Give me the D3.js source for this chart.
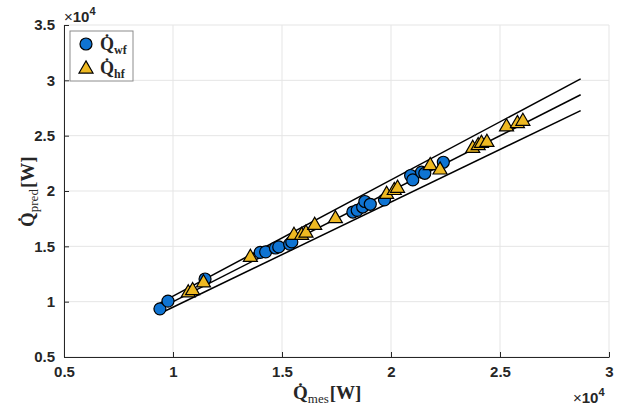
<!DOCTYPE html>
<html>
<head>
<meta charset="utf-8">
<script src="https://cdn.jsdelivr.net/npm/d3@7"></script>
<style>
  html, body { margin: 0; padding: 0; background: #fff; }
  svg { display: block; }
  .tick text { font-family: "Liberation Sans", Arial, sans-serif; font-weight: bold; font-size: 15px; fill: #262626; }
  .lbl { font-family: "Liberation Serif", "DejaVu Serif", serif; fill: #262626; }
</style>
</head>
<body>
<svg id="svg" width="617" height="408"></svg>
<script>
// measured vs predicted heat flow [W]
const wfMes  = [9400, 9770, 11470, 14000, 14250, 14700, 14850, 15350, 15450, 18250, 18450, 18700, 18800, 19050, 19700, 20900, 21000, 21400, 21550, 22400];
const wfPred = [9350, 10050, 12050, 14450, 14500, 14850, 14950, 15200, 15400, 18100, 18250, 18550, 19050, 18800, 19200, 21400, 21000, 21700, 21600, 22600];
const hfMes  = [10700, 10900, 11400, 13550, 15550, 15900, 16100, 16500, 17450, 19800, 20150, 20300, 21800, 22250, 23750, 24000, 24150, 24400, 25300, 25800, 26050];
const hfPred = [10800, 11000, 11700, 14000, 16000, 16000, 16200, 16900, 17500, 19700, 20050, 20250, 22300, 21900, 23850, 24100, 24300, 24400, 25800, 26100, 26300];
// reference lines y = k * x
const bandFactors = [1.05, 1.0, 0.95];
const bandRange = [9400, 28700];
const xTicks = [5000, 10000, 15000, 20000, 25000, 30000];
const yTicks = [5000, 10000, 15000, 20000, 25000, 30000, 35000];

const W = 617, H = 408;
const m = { left: 64, right: 8, top: 25, bottom: 51 };
const svg = d3.select('#svg');

const x = d3.scaleLinear().domain([5000, 30000]).range([m.left, W - m.right]);
const y = d3.scaleLinear().domain([5000, 35000]).range([H - m.bottom, m.top]);

const fmt = v => d3.format('')(v / 10000);

// grid
const grid = svg.append('g');
grid.selectAll('.gx').data(xTicks).join('line')
  .attr('x1', d => x(d)).attr('x2', d => x(d))
  .attr('y1', y.range()[0]).attr('y2', y.range()[1])
  .attr('stroke', '#e5e5e5').attr('stroke-width', 1);
grid.selectAll('.gy').data(yTicks).join('line')
  .attr('y1', d => y(d)).attr('y2', d => y(d))
  .attr('x1', x.range()[0]).attr('x2', x.range()[1])
  .attr('stroke', '#e5e5e5').attr('stroke-width', 1);

// axes
const xAxis = svg.append('g').attr('transform', `translate(0,${y.range()[0]})`)
  .call(d3.axisBottom(x).tickValues(xTicks).tickFormat(fmt).tickSizeInner(-5).tickSizeOuter(0).tickPadding(9));
const yAxis = svg.append('g').attr('transform', `translate(${x.range()[0]},0)`)
  .call(d3.axisLeft(y).tickValues(yTicks).tickFormat(fmt).tickSizeInner(-5).tickSizeOuter(0).tickPadding(9));
[xAxis, yAxis].forEach(a => {
  a.select('.domain').attr('stroke', '#262626');
  a.selectAll('.tick line').attr('stroke', '#262626');
});

// exponent labels
function expLabel(px, py) {
  const t = svg.append('text').attr('x', px).attr('y', py)
    .style('font-family', '"Liberation Sans", Arial, sans-serif').style('font-size', '15px').attr('fill', '#262626');
  t.append('tspan').text('\u00d7');
  t.append('tspan').text('10').style('font-weight', 'bold');
  t.append('tspan').text('4').attr('dy', -7).style('font-size', '11px').style('font-weight', 'bold');
}
expLabel(64, 22);
expLabel(573, 403);

// band lines
const line = d3.line().x(d => x(d[0])).y(d => y(d[1]));
svg.append('g').selectAll('path').data(bandFactors).join('path')
  .attr('d', k => line(bandRange.map(v => [v, v * k])))
  .attr('fill', 'none').attr('stroke', '#000').attr('stroke-width', 1.5);

// markers
const blue = '#0f74d3', yellow = '#eeb922';
const tri = d3.symbol().type(d3.symbolTriangle).size(85);
const pts = (a, b) => a.map((v, i) => [v, b[i]]);

svg.append('g').selectAll('circle').data(pts(wfMes, wfPred)).join('circle')
  .attr('cx', d => x(d[0])).attr('cy', d => y(d[1])).attr('r', 6)
  .attr('fill', blue).attr('stroke', '#000').attr('stroke-width', 1.2);
svg.append('g').selectAll('path').data(pts(hfMes, hfPred)).join('path')
  .attr('d', tri).attr('transform', d => `translate(${x(d[0])},${y(d[1])})`)
  .attr('fill', yellow).attr('stroke', '#000').attr('stroke-width', 1.2);

// axis labels with dotted Q and subscripts
function qLabel(g, sub, unit, big, small, subBold) {
  const t = g.append('text').attr('class', 'lbl').style('font-size', big + 'px');
  t.append('tspan').text('Q\u0307').style('font-weight', 'bold');
  t.append('tspan').text(sub).attr('dy', 4).style('font-size', small + 'px')
    .style('font-weight', subBold ? 'bold' : 'normal');
  if (unit) t.append('tspan').text(unit).attr('dy', -4).attr('dx', 1).style('font-weight', 'bold');
  return t;
}
qLabel(svg.append('g').attr('transform', 'translate(293,399)'), 'mes', '[W]', 19, 13, false);
qLabel(svg.append('g').attr('transform', 'translate(34,227) rotate(-90)'), 'pred', '[W]', 19, 13, false);

// legend
const lg = svg.append('g').attr('transform', 'translate(70,31)');
lg.append('rect').attr('width', 63).attr('height', 50)
  .attr('fill', '#fff').attr('stroke', '#8c8c8c').attr('stroke-width', 1);
lg.append('circle').attr('cx', 16).attr('cy', 13).attr('r', 6)
  .attr('fill', blue).attr('stroke', '#000').attr('stroke-width', 1.2);
lg.append('path').attr('d', tri).attr('transform', 'translate(16,38)')
  .attr('fill', yellow).attr('stroke', '#000').attr('stroke-width', 1.2);
qLabel(lg.append('g').attr('transform', 'translate(30,19)'), 'wf', null, 18, 12, true);
qLabel(lg.append('g').attr('transform', 'translate(30,43)'), 'hf', null, 18, 12, true);
</script>
</body>
</html>
